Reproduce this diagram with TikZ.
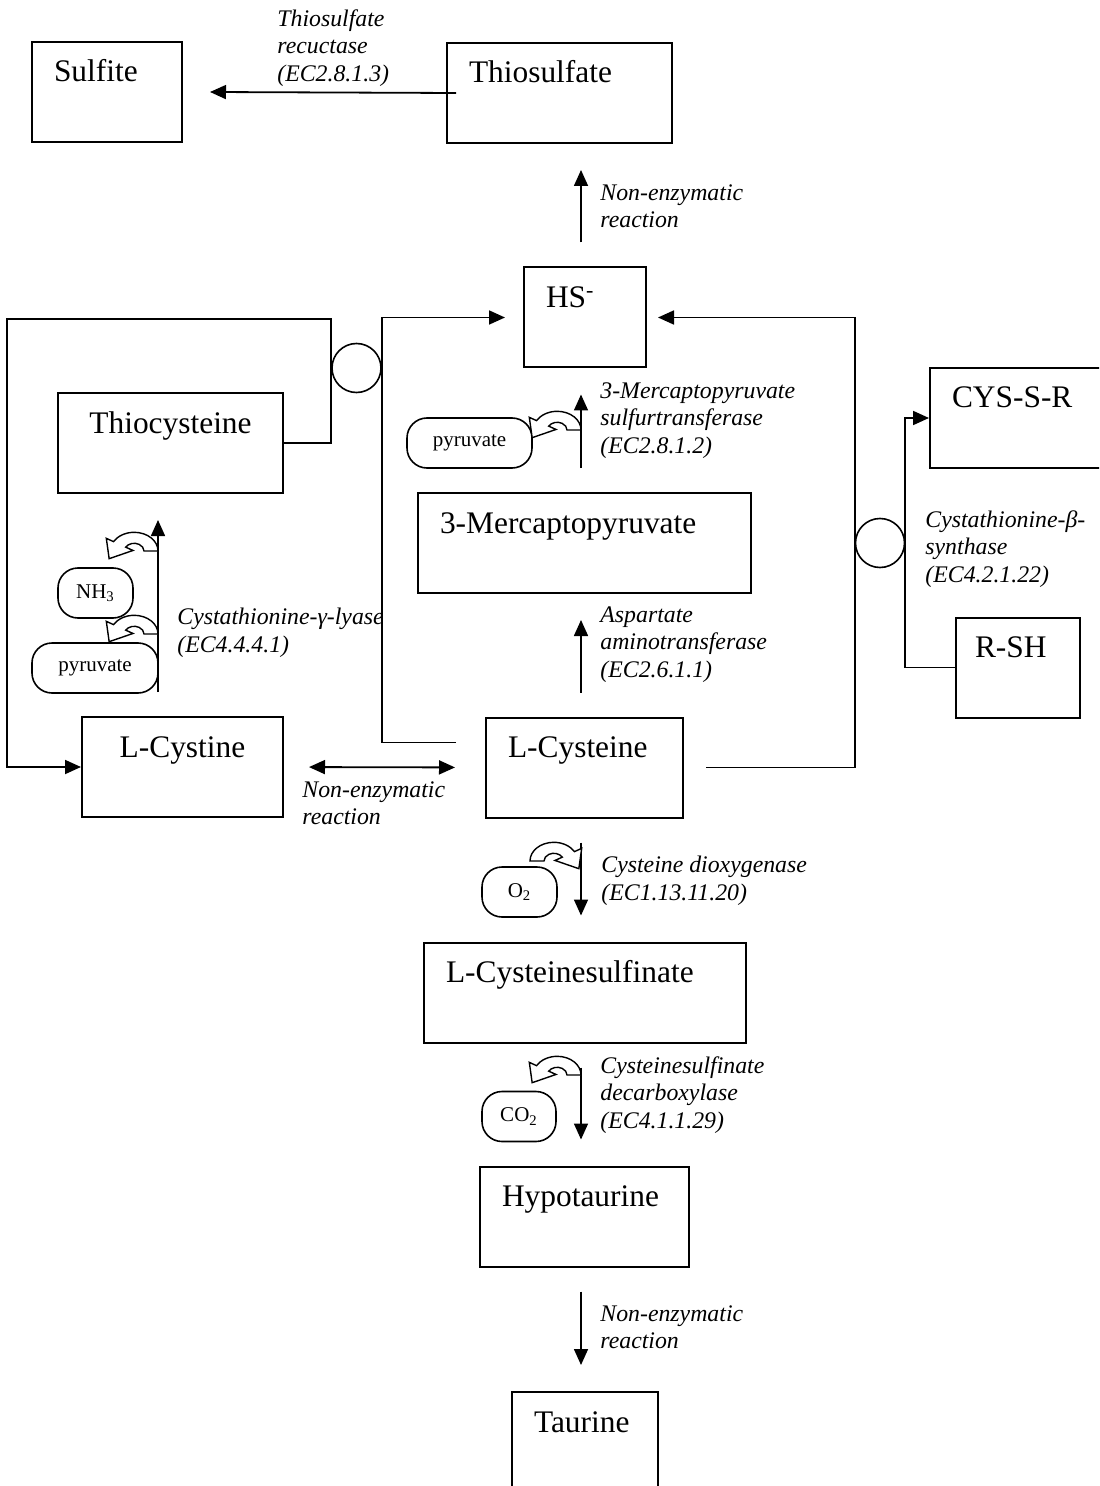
\documentclass[tikz,border=0pt]{standalone}
\usepackage{fontspec}
\setmainfont{Liberation Serif}
\usetikzlibrary{arrows.meta,calc}

\begin{document}
\begin{tikzpicture}[x=0.5pt, y=-0.5pt, >={Triangle[length=8pt,width=7pt]},
   box/.style={draw, line width=1pt, inner xsep=11pt, inner ysep=0pt,
               text height=20pt, text depth=30pt, align=left,
               font=\fontsize{15.7}{19}\selectfont},
   pill/.style={draw, line width=0.8pt, rounded corners=10pt, minimum height=25pt,
                inner sep=0pt, font=\fontsize{10.5}{12}\selectfont},
   enz/.style={anchor=north west, inner sep=0pt, align=left,
               font=\itshape\fontsize{11.9}{13.8}\selectfont},
   link/.style={->, line width=0.9pt},
   rxn/.style={->, line width=0.8pt, shorten <=12pt, shorten >=13pt},
   joint/.style={draw, circle, line width=0.8pt, minimum size=24.5pt, inner sep=0pt},
   bend/.pic={
     \draw[line width=0.7pt, fill=white, xscale=1.4, yscale=-1.1]
       (0,0) arc[start angle=0, end angle=150, radius=17]
       -- (-36.92,11.5) -- (-34.89,-6.99) -- (-17.87,0.5) -- (-23.06,3.5)
       arc[start angle=150, end angle=0, radius=7] -- cycle;
   }]
  \useasboundingbox (0,0) rectangle (1099,1486);
  \clip (0,0) rectangle (1099,1486);

  \coordinate (ax) at (581,0);
  \coordinate (gx) at (158,0);
  \coordinate (tl) at (7,319);

  % metabolites
  \node[box, text width=53pt]                 (sulfite)  at (107,92)      {Sulfite};
  \node[box, text width=90.5pt]               (thio)     at (559.5,93)    {Thiosulfate};
  \node[box, text width=39pt]                 (hs)       at (585,317.5)   {HS\textsuperscript{-}};
  \node[box, text width=90.5pt, align=center] (thiocys)  at (170.5,443)   {Thiocysteine};
  \node[box, text width=144.5pt]              (mp)       at (584.5,543)   {3-Mercaptopyruvate};
  \node[box, text width=78.5pt, align=center] (lcystine) at (182.5,767)   {L-Cystine};
  \node[box, text width=76.5pt]               (lcys)     at (584.5,767.5) {L-Cysteine};
  \node[box, text width=139pt]                (csa)      at (585,992.5)   {L-Cysteinesulfinate};
  \node[box, text width=82.5pt]               (hypo)     at (584.5,1216.5){Hypotaurine};
  \node[box, text width=51pt]                 (taurine)  at (585,1442)    {Taurine};
  \node[box, text width=65.5pt]               (cysr)     at (1017.5,418)  {CYS-S-R};
  \node[box, text width=43pt, inner xsep=9.5pt] (rsh)    at (1018,667.5)  {R-SH};

  \node[joint] (jl) at (356.5,368) {};
  \node[joint] (jr) at (880,543) {};

  % side products
  \node[pill, minimum width=62.5pt] (pyr1) at (469.5,443) {pyruvate};
  \node[pill, minimum width=37.5pt] (nh3)  at (95.5,593)  {NH\textsubscript{3}};
  \node[pill, minimum width=63pt]   (pyr2) at (95,668)    {pyruvate};
  \node[pill, minimum width=37.5pt] (o2)   at (519.5,892) {O\textsubscript{2}};
  \node[pill, minimum width=37pt]   (co2)  at (519,1116.5){CO\textsubscript{2}};

  % enzymes
  \node[enz] (tsr) at (277,9)    {Thiosulfate\\recuctase\\(EC2.8.1.3)};
  \node[enz] (ne1) at (600,184)  {Non-enzymatic\\reaction};
  \node[enz] (mst) at (600,382)  {3-Mercaptopyruvate\\sulfurtransferase\\(EC2.8.1.2)};
  \node[enz] (cgl) at (177,608)  {Cystathionine-γ-lyase\\(EC4.4.4.1)};
  \node[enz] (aat) at (600,606)  {Aspartate\\aminotransferase\\(EC2.6.1.1)};
  \node[enz] (cbs) at (925,510)  {Cystathionine-β-\\synthase\\(EC4.2.1.22)};
  \node[enz] (ne2) at (302,781)  {Non-enzymatic\\reaction};
  \node[enz] (cdo) at (601,856)  {Cysteine dioxygenase\\(EC1.13.11.20)};
  \node[enz] (csd) at (600,1056) {Cysteinesulfinate\\decarboxylase\\(EC4.1.1.29)};
  \node[enz] (ne3) at (600,1305) {Non-enzymatic\\reaction};

  % reactions
  \draw[link] ([xshift=5pt]thio.west) -- ([xshift=13.5pt]sulfite.east);
  \draw[rxn] (hs.north -| ax) -- (thio.south -| ax);
  \draw[rxn] (mp.north -| ax) -- (hs.south -| ax);
  \draw[rxn] (lcys.north -| ax) -- (mp.south -| ax);
  \draw[rxn] (lcys.south -| ax) -- (csa.north -| ax);
  \draw[rxn] (csa.south -| ax) -- (hypo.north -| ax);
  \draw[rxn] (hypo.south -| ax) -- (taurine.north -| ax);
  \draw[rxn] (lcystine.north -| gx) -- (thiocys.south -| gx);
  \draw[link, <->, shorten <=12.5pt, shorten >=15pt] (lcystine.east) -- (lcys.west);

  \draw[link] (thiocys.east) -| (jl.west |- tl) -- (tl) |- (lcystine.west);
  \draw[link] ([shift={(-29,-25)}]lcys.west) -| (jl.east |- hs.west) -- ([xshift=-9pt]hs.west);
  \draw[link] ([xshift=11pt]lcys.east) -| (jr.west |- hs.east) -- ([xshift=5.5pt]hs.east);
  \draw[link] (rsh.west) -| (jr.east |- cysr.west) -- (cysr.west);

  \pic at (581,430) {bend};
  \pic at (158,551) {bend};
  \pic at (158,634) {bend};
  \pic[xscale=-1] at (530,861) {bend};
  \pic at (581,1075) {bend};
\end{tikzpicture}
\end{document}
